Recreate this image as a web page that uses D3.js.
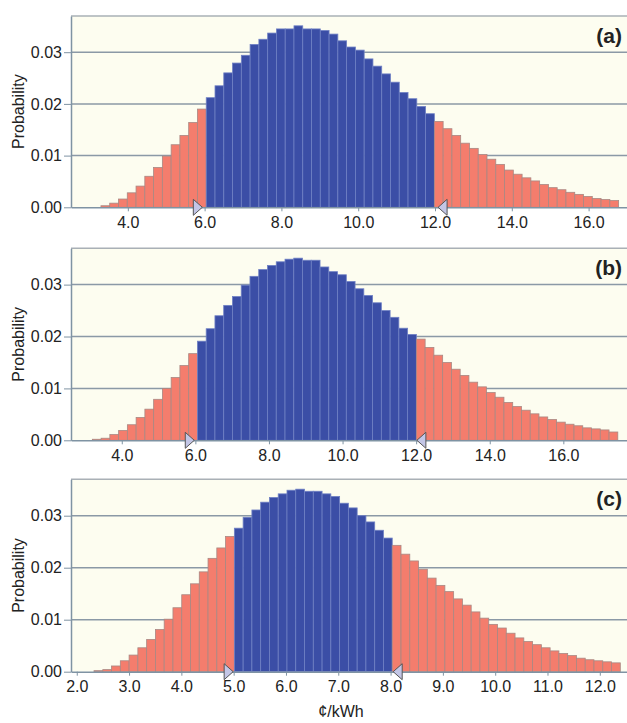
<!DOCTYPE html>
<html lang="en">
<head>
    <meta charset="UTF-8">
    <title>Cost distributions</title>
    <script src="https://d3js.org/d3.v7.min.js"></script>
    <style>
        body { margin: 0; background: #fff; }
        text { font-family: "Liberation Sans", Arial, sans-serif; fill: #222; }
        .axis text { font-size: 16px; fill: #222; }
        .axis path, .axis line { stroke: #7f93a3; }
        .panel-label { font-size: 21px; font-weight: bold; text-anchor: end; }
        .y-title, .x-title { font-size: 16px; text-anchor: middle; }
    </style>
</head>
<body>
<svg id="chart" width="627" height="723"></svg>
<script>
// Panel (a)
var aStart = 3.30, aBin = 0.2285;
var aProbs = [0.0003, 0.0008, 0.0016, 0.0028, 0.0041, 0.0060, 0.0077, 0.0099, 0.0121, 0.0139, 0.0164, 0.0190,
    0.0212, 0.0235, 0.0260, 0.0279, 0.0294, 0.0315, 0.0325, 0.0337, 0.0345, 0.0345, 0.0351, 0.0345, 0.0345,
    0.0342, 0.0335, 0.0322, 0.0310, 0.0304, 0.0287, 0.0273, 0.0258, 0.0242, 0.0222, 0.0210, 0.0195, 0.0181,
    0.0166, 0.0152, 0.0139, 0.0124, 0.0114, 0.0102, 0.0093, 0.0083, 0.0072, 0.0064, 0.0057, 0.0051, 0.0044,
    0.0038, 0.0034, 0.0029, 0.0025, 0.0021, 0.0017, 0.0015, 0.0013];
var aCuts = [6.04, 11.98];
var aMarkers = [5.94, 12.08];
var aDomain = [2.52, 17.0];
var aTicks = [4, 6, 8, 10, 12, 14, 16];

// Panel (b)
var bStart = 3.20, bBin = 0.238;
var bProbs = [0.0002, 0.0004, 0.0011, 0.0019, 0.0030, 0.0044, 0.0060, 0.0079, 0.0100, 0.0121, 0.0144, 0.0167,
    0.0191, 0.0215, 0.0240, 0.0260, 0.0277, 0.0299, 0.0316, 0.0329, 0.0337, 0.0344, 0.0349, 0.0351, 0.0347,
    0.0347, 0.0334, 0.0325, 0.0319, 0.0306, 0.0292, 0.0279, 0.0265, 0.0250, 0.0237, 0.0216, 0.0204,
    0.0195, 0.0179, 0.0164, 0.0150, 0.0137, 0.0125, 0.0112, 0.0103, 0.0092, 0.0083, 0.0073, 0.0065, 0.0058,
    0.0051, 0.0045, 0.0040, 0.0035, 0.0031, 0.0028, 0.0024, 0.0022, 0.0020, 0.0016];
var bCuts = [6.06, 12.01];
var bMarkers = [5.97, 12.02];
var bDomain = [2.62, 17.73];
var bTicks = [4, 6, 8, 10, 12, 14, 16];

// Panel (c)
var cStart = 2.33, cBin = 0.1677;
var cProbs = [0.0002, 0.0004, 0.0011, 0.0021, 0.0032, 0.0046, 0.0062, 0.0081, 0.0101, 0.0123, 0.0148, 0.0169,
    0.0192, 0.0218, 0.0238, 0.0260,
    0.0276, 0.0297, 0.0311, 0.0326, 0.0335, 0.0342, 0.0349, 0.0351, 0.0347, 0.0347, 0.0342, 0.0337, 0.0324,
    0.0315, 0.0300, 0.0288, 0.0272, 0.0257,
    0.0243, 0.0226, 0.0213, 0.0197, 0.0180, 0.0166, 0.0154, 0.0140, 0.0128, 0.0115, 0.0103, 0.0091, 0.0084,
    0.0074, 0.0065, 0.0058, 0.0052, 0.0046, 0.0040, 0.0035, 0.0031, 0.0026, 0.0023, 0.0021, 0.0019, 0.0017];
var cCuts = [5.01, 8.03];
var cMarkers = [4.99, 8.05];
var cDomain = [1.89, 12.52];
var cTicks = [2, 3, 4, 5, 6, 7, 8, 9, 10, 11, 12];

var yTicks = [0, 0.01, 0.02, 0.03];
var yMax = 0.037;

var svg = d3.select("#chart");
var left = 71, right = 627;

var panels = [
    { label: "(a)", top: 16, bottom: 207.3, start: aStart, bin: aBin, probs: aProbs, cuts: aCuts, markers: aMarkers, domain: aDomain, ticks: aTicks },
    { label: "(b)", top: 248.3, bottom: 440.3, start: bStart, bin: bBin, probs: bProbs, cuts: bCuts, markers: bMarkers, domain: bDomain, ticks: bTicks },
    { label: "(c)", top: 479.3, bottom: 671.7, start: cStart, bin: cBin, probs: cProbs, cuts: cCuts, markers: cMarkers, domain: cDomain, ticks: cTicks }
];

panels.forEach(function(p) {
    var x = d3.scaleLinear().domain(p.domain).range([left, right]);
    var y = d3.scaleLinear().domain([0, yMax]).range([p.bottom, p.top]);
    var g = svg.append("g");

    // plot background
    g.append("rect")
        .attr("x", left).attr("y", p.top)
        .attr("width", right - left).attr("height", p.bottom - p.top)
        .attr("fill", "#fdfdf0");

    // horizontal grid
    g.selectAll(".grid")
        .data(yTicks.slice(1))
        .enter().append("line")
        .attr("x1", left).attr("x2", right)
        .attr("y1", d => y(d)).attr("y2", d => y(d))
        .attr("stroke", "#8b99a6").attr("stroke-width", 1.5);

    // top border
    g.append("line")
        .attr("x1", left).attr("x2", right)
        .attr("y1", p.top).attr("y2", p.top)
        .attr("stroke", "#a9b0b6").attr("stroke-width", 1.5);

    // histogram bars
    g.selectAll(".bar")
        .data(p.probs)
        .enter().append("rect")
        .attr("x", (d, i) => x(p.start + i * p.bin))
        .attr("width", (d, i) => x(p.start + (i + 1) * p.bin) - x(p.start + i * p.bin))
        .attr("y", d => y(d))
        .attr("height", d => y(0) - y(d))
        .attr("fill", function(d, i) {
            var mid = p.start + (i + 0.5) * p.bin;
            return (mid > p.cuts[0] && mid < p.cuts[1]) ? "#3b4ea6" : "#f47d6d";
        })
        .attr("stroke", function(d, i) {
            var mid = p.start + (i + 0.5) * p.bin;
            return (mid > p.cuts[0] && mid < p.cuts[1]) ? "#6f80c4" : "#a98883";
        })
        .attr("stroke-width", 0.8);

    // x axis
    g.append("g")
        .attr("class", "axis")
        .attr("transform", "translate(0," + p.bottom + ")")
        .call(d3.axisBottom(x).tickValues(p.ticks).tickFormat(d3.format(".1f")).tickSize(4).tickSizeOuter(0).tickPadding(5))
        .call(s => s.select(".domain").attr("stroke-width", 1.5));

    // y axis
    g.append("g")
        .attr("class", "axis")
        .attr("transform", "translate(" + left + ",0)")
        .call(d3.axisLeft(y).tickValues(yTicks).tickFormat(d3.format(".2f")).tickSize(7).tickSizeOuter(0).tickPadding(2))
        .call(s => s.select(".domain").attr("stroke", "#7fa3aa").attr("stroke-width", 1.5));

    // delimiter markers
    var tri = 9, half = 8;
    g.append("path")
        .attr("d", "M" + (x(p.markers[0]) - tri) + "," + (p.bottom - half) + "L" + x(p.markers[0]) + "," + p.bottom +
            "L" + (x(p.markers[0]) - tri) + "," + (p.bottom + half) + "Z")
        .attr("fill", "#c3c6e6").attr("stroke", "#555").attr("stroke-width", 1);
    g.append("path")
        .attr("d", "M" + (x(p.markers[1]) + tri) + "," + (p.bottom - half) + "L" + x(p.markers[1]) + "," + p.bottom +
            "L" + (x(p.markers[1]) + tri) + "," + (p.bottom + half) + "Z")
        .attr("fill", "#c3c6e6").attr("stroke", "#555").attr("stroke-width", 1);

    // panel label
    g.append("text")
        .attr("class", "panel-label")
        .attr("x", 622).attr("y", p.top + 27)
        .text(p.label);

    // y title
    g.append("text")
        .attr("class", "y-title")
        .attr("transform", "translate(24," + ((p.top + p.bottom) / 2) + ") rotate(-90)")
        .text("Probability");
});

svg.append("text")
    .attr("class", "x-title")
    .attr("x", 341).attr("y", 717)
    .text("¢/kWh");
</script>
</body>
</html>
